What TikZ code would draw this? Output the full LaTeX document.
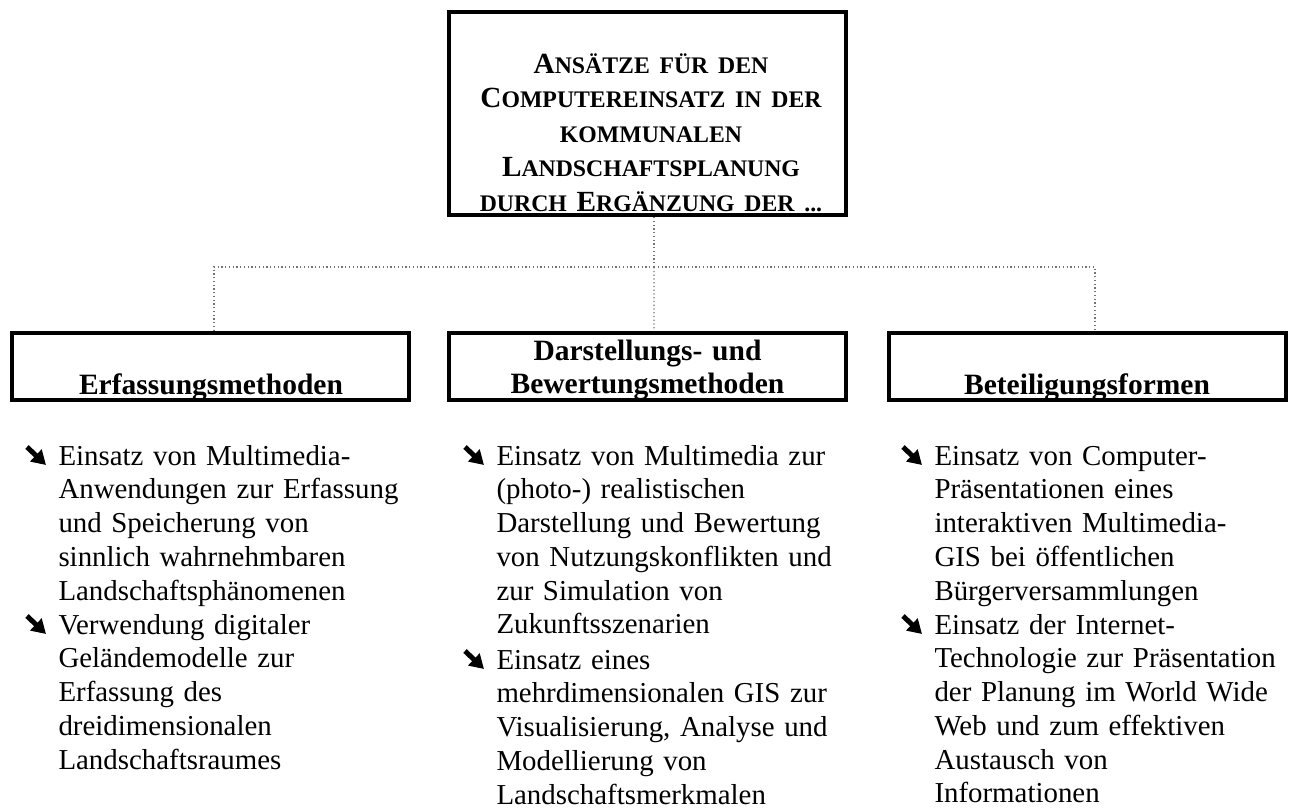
\documentclass[tikz,border=0pt]{standalone}
\usepackage{fontspec}
\setmainfont{Liberation Serif}
\usetikzlibrary{positioning,arrows.meta}
\newcommand{\smallcap}[1]{{\fontsize{9.5}{13.8}\selectfont #1}}
\tikzset{
  topbox/.style={draw, line width=1.6pt, minimum width=158.8pt,
    minimum height=81.2pt, inner sep=0pt},
  catbox/.style={draw, line width=1.6pt, minimum width=158.8pt,
    minimum height=26.8pt, inner sep=0pt},
  toptext/.style={font=\fontsize{11.7}{13.8}\selectfont\bfseries, text width=158pt,
    align=center, inner sep=0pt},
  heading/.style={font=\fontsize{11.8}{13.5}\selectfont\bfseries, text width=158pt,
    align=center, inner sep=0pt},
  entry/.style={font=\fontsize{11.55}{13.5}\selectfont, text width=150pt,
    align=left, inner sep=0pt},
  dotlink/.style={densely dotted, line width=0.5pt, draw=black!55},
  bulletarrow/.pic={
    \draw[line width=2pt, -{Triangle[length=5.6pt,width=6.4pt]}] (-31,-18) -- (-12,0);
  },
}
\begin{document}
\begin{tikzpicture}[x=0.4pt,y=-0.4pt]
  \useasboundingbox (0,0) rectangle (1292,807);
  % top box
  \node[topbox] (top) at (647.5,113.5) {};
  \node[toptext, anchor=base] (toplabel) at (651,73)
    {A\smallcap{NSÄTZE FÜR DEN}\\C\smallcap{OMPUTEREINSATZ IN DER}\\
     \smallcap{KOMMUNALEN}\\L\smallcap{ANDSCHAFTSPLANUNG}\\
     \smallcap{DURCH} E\smallcap{RGÄNZUNG DER ...}};
  % category boxes
  \node[catbox] (erf) at (210.5,366.5) {};
  \node[catbox] (dar) at (647.5,366.5) {};
  \node[catbox] (bet) at (1087,366.5) {};
  \node[heading, anchor=base] (erflabel) at (211,394) {Erfassungsmethoden};
  \node[heading, anchor=base] (darlabel) at (647.5,360) {Darstellungs- und\\Bewertungsmethoden};
  \node[heading, anchor=base] (betlabel) at (1087,394) {Beteiligungsformen};
  % dotted connectors
  \coordinate (hub) at (654,267);
  \draw[dotlink] (top.south -| hub) -- (hub);
  \draw[dotlink] (hub) -| ([xshift=1.4pt]erf.north);
  \draw[dotlink] (hub) -- ([xshift=2.6pt]dar.north);
  \draw[dotlink] (hub) -| ([xshift=3.2pt]bet.north);
  % items
  \node[entry, anchor=base west] (erf1) at (58,465)
    {Einsatz von Multimedia-\\Anwendungen zur Erfassung\\und Speicherung von\\
     sinnlich wahrnehmbaren\\Landschaftsphänomenen};
  \node[entry, anchor=base west] (erf2) at (58,634)
    {Verwendung digitaler\\Geländemodelle zur\\Erfassung des\\
     dreidimensionalen\\Landschaftsraumes};
  \node[entry, anchor=base west] (dar1) at (496,465)
    {Einsatz von Multimedia zur\\(photo-) realistischen\\Darstellung und Bewertung\\
     von Nutzungskonflikten und\\zur Simulation von\\Zukunftsszenarien};
  \node[entry, anchor=base west] (dar2) at (496,669)
    {Einsatz eines\\mehrdimensionalen GIS zur\\Visualisierung, Analyse und\\
     Modellierung von\\Landschaftsmerkmalen};
  \node[entry, anchor=base west] (bet1) at (934,465)
    {Einsatz von Computer-\\Präsentationen eines\\interaktiven Multimedia-\\
     GIS bei öffentlichen\\Bürgerversammlungen};
  \node[entry, anchor=base west] (bet2) at (934,634)
    {Einsatz der Internet-\\Technologie zur Präsentation\\der Planung im World Wide\\
     Web und zum effektiven\\Austausch von\\Informationen};
  \foreach \n in {erf1,erf2,dar1,dar2,bet1,bet2}
    \pic at (\n.base west) {bulletarrow};
\end{tikzpicture}
\end{document}
